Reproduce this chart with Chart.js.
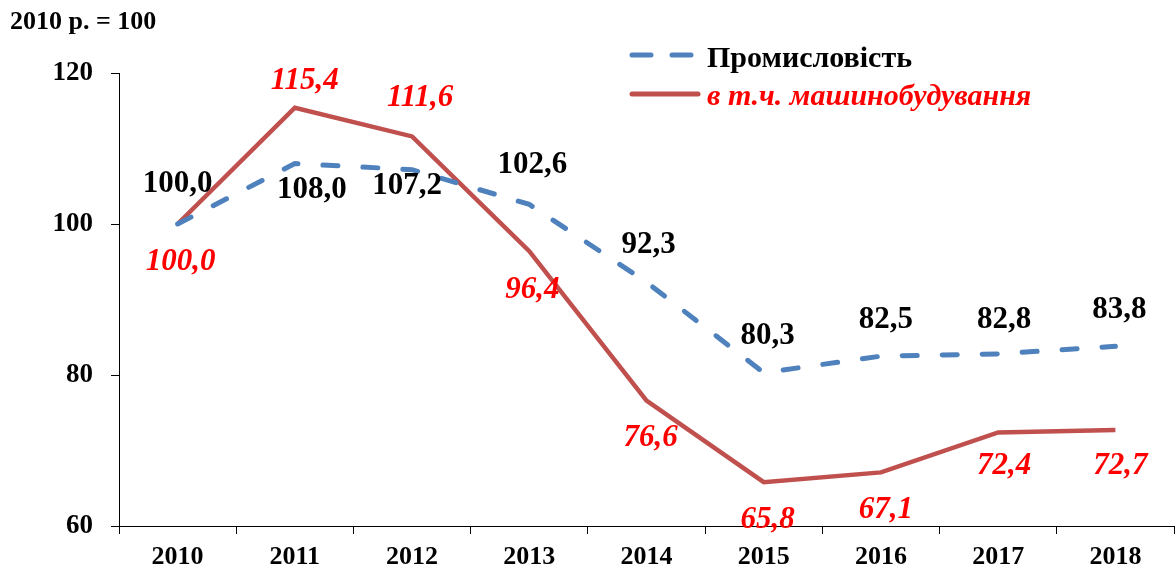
<!DOCTYPE html>
<html><head><meta charset="utf-8">
<script src="https://cdn.jsdelivr.net/npm/chart.js@4/dist/chart.umd.min.js"></script>
<style>html,body{margin:0;padding:0;background:#fff}#wrap{width:1175px;height:571px}</style>
</head><body><div id="wrap"><canvas id="c" width="1175" height="571"></canvas></div>
<script>
const categories = ['2010','2011','2012','2013','2014','2015','2016','2017','2018'];
const industry = [100.0,108.0,107.2,102.6,92.3,80.3,82.5,82.8,83.8];
const machinery = [100.0,115.4,111.6,96.4,76.6,65.8,67.1,72.4,72.7];
const yTicks = [60,80,100,120];
const seriesNames = ['Промисловість','в т.ч. машинобудування'];
const unitNote = '2010 р. = 100';

const fmt = v => v.toFixed(1).replace('.', ',');
const FONT = '"Liberation Serif","Times New Roman",serif';

// label placement (pixel offsets from the point), style only
const blackOff = [[0,-40],[17,26],[-5,16],[3,-39],[2,-37],[4,-37],[5,-36],[6,-34],[4,-36]];
const redOff   = [[3,38],[10,-27],[8,-38],[3,39],[4,37],[4,38],[5,38],[6,34],[5,36]];

const labelPlugin = {
  id: 'labels',
  afterDatasetsDraw(chart) {
    const ctx = chart.ctx;
    ctx.save();
    ctx.textAlign = 'center';
    ctx.textBaseline = 'middle';
    const m0 = chart.getDatasetMeta(0);
    ctx.font = 'bold 31px ' + FONT;
    ctx.fillStyle = '#000';
    m0.data.forEach((p, i) => {
      ctx.fillText(fmt(industry[i]), p.x + blackOff[i][0], p.y + blackOff[i][1]);
    });
    const m1 = chart.getDatasetMeta(1);
    ctx.font = 'italic bold 31px ' + FONT;
    ctx.fillStyle = '#FF0000';
    m1.data.forEach((p, i) => {
      ctx.fillText(fmt(machinery[i]), p.x + redOff[i][0], p.y + redOff[i][1]);
    });
    // unit note
    ctx.textAlign = 'left';
    ctx.textBaseline = 'alphabetic';
    ctx.font = 'bold 26px ' + FONT;
    ctx.fillStyle = '#000';
    ctx.fillText(unitNote, 10, 29);
    // legend
    ctx.lineCap = 'round';
    ctx.strokeStyle = '#4F81BD';
    ctx.lineWidth = 5;
    ctx.setLineDash([19, 21]);
    ctx.beginPath(); ctx.moveTo(632, 55); ctx.lineTo(692, 55); ctx.stroke();
    ctx.setLineDash([]);
    ctx.strokeStyle = '#C0504D';
    ctx.beginPath(); ctx.moveTo(632, 94); ctx.lineTo(698, 94); ctx.stroke();
    ctx.font = 'bold 30px ' + FONT;
    ctx.fillStyle = '#000';
    ctx.fillText(seriesNames[0], 707, 67);
    ctx.font = 'italic bold 30px ' + FONT;
    ctx.fillStyle = '#FF0000';
    ctx.fillText(seriesNames[1], 707, 105);
    ctx.restore();
  }
};

new Chart(document.getElementById('c'), {
  type: 'line',
  data: {
    labels: categories,
    datasets: [
      { label: seriesNames[0], data: industry, borderColor: '#4F81BD', borderWidth: 5,
        borderDash: [15, 25], borderCapStyle: 'round', pointRadius: 0, tension: 0, fill: false },
      { label: seriesNames[1], data: machinery, borderColor: '#C0504D', borderWidth: 4.5,
        pointRadius: 0, tension: 0, fill: false, borderJoinStyle: 'miter' }
    ]
  },
  options: {
    responsive: false,
    animation: false,
    devicePixelRatio: 1,
    layout: { padding: { top: 73, right: 1, left: 0, bottom: 0 } },
    plugins: { legend: { display: false }, tooltip: { enabled: false } },
    scales: {
      x: {
        offset: true,
        grid: { display: true, drawOnChartArea: false, offset: true, tickLength: 8, color: '#000', tickColor: '#000' },
        border: { color: '#000', width: 1 },
        ticks: { color: '#000', font: { family: FONT, size: 26, weight: 'bold' }, padding: 8 },
        afterFit(s) { s.height = 45; }
      },
      y: {
        min: 60, max: 120,
        afterBuildTicks(s) { s.ticks = yTicks.map(v => ({ value: v })); },
        grid: { display: true, drawOnChartArea: false, tickLength: 8, color: '#000', tickColor: '#000' },
        border: { color: '#000', width: 1 },
        ticks: { color: '#000', font: { family: FONT, size: 27, weight: 'bold' }, padding: 18 },
        afterFit(s) { s.width = 119; }
      }
    }
  },
  plugins: [labelPlugin]
});
</script></body></html>
